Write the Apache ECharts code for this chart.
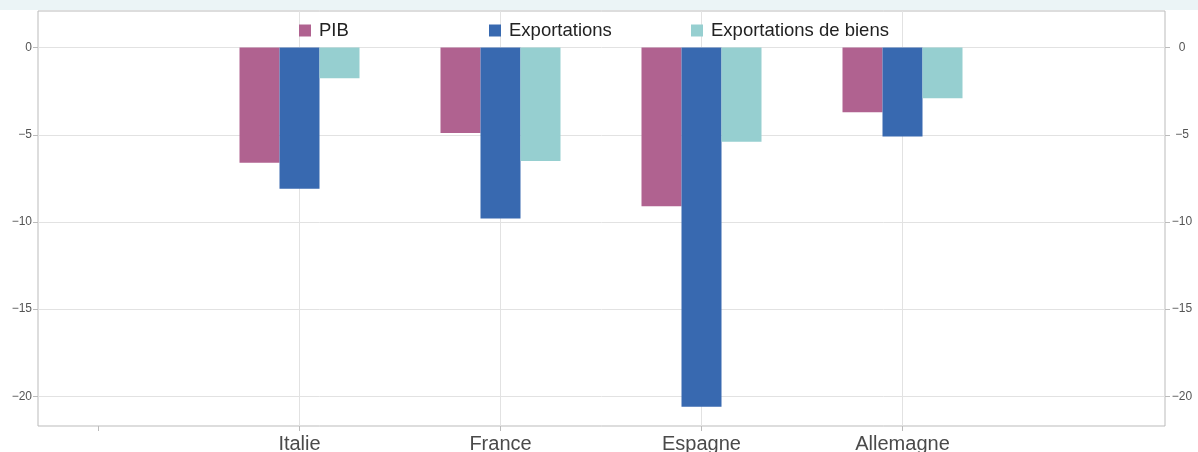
<!DOCTYPE html>
<html>
<head>
<meta charset="utf-8">
<script src="https://cdn.jsdelivr.net/npm/echarts@6/dist/echarts.min.js"></script>
<style>
html,body{margin:0;padding:0;background:#fff;}
#chart{width:1198px;height:452px;}
</style>
</head>
<body>
<div id="chart"></div>
<script>
// Data
var categories = ["Italie", "France", "Espagne", "Allemagne"];
var seriesNames = ["PIB", "Exportations", "Exportations de biens"];
var pib = [-6.6, -4.9, -9.1, -3.7];
var exportations = [-8.1, -9.8, -20.6, -5.1];
var exportationsBiens = [-1.75, -6.5, -5.4, -2.9];
var yTicks = [0, -5, -10, -15, -20];
var yMin = -21.7, yMax = 2.1;

var colors = ["#b06290", "#3869b0", "#96cfd0"];
var font = "'Liberation Sans', Arial, Helvetica, sans-serif";

// pad categories with empty slots at both ends
var axisCats = [""].concat(categories, [""]);
function pad(arr) { return [null].concat(arr, [null]); }
function fmt(v) { return String(v).replace('-', '\u2212'); }

var chart = echarts.init(document.getElementById('chart'), null, {renderer: 'canvas'});

var legendLefts = [299, 489, 691];
var legends = seriesNames.map(function (n, i) {
  return {
    data: [n], left: legendLefts[i], top: 21, padding: 0,
    itemWidth: 12, itemHeight: 12, icon: 'rect',
    selectedMode: false,
    textStyle: {fontSize: 18.5, color: '#222', fontFamily: font, padding: [0, 0, 0, 3]}
  };
});

var option = {
  animation: false,
  color: colors,
  graphic: [{
    type: 'rect', left: 0, top: 0, z: -10,
    shape: {width: 1198, height: 10},
    style: {fill: '#ebf4f6'}
  }],
  legend: legends,
  grid: [
    {left: 38, right: 33, top: 11, bottom: 26, show: true, borderColor: '#bbb', borderWidth: 1, backgroundColor: 'transparent', outerBoundsMode: 'none', containLabel: false},
    {left: 98.5, right: 94.5, top: 11, bottom: 26, outerBoundsMode: 'none', containLabel: false}
  ],
  xAxis: [
    {gridIndex: 0, type: 'value', min: 0, max: 1, show: false},
    {
      gridIndex: 1, type: 'category', data: axisCats, boundaryGap: false, position: 'bottom',
      axisLine: {show: false, onZero: false},
      axisTick: {show: true, inside: false, length: 5, interval: function (idx) { return idx < axisCats.length - 1; }, lineStyle: {color: '#bbb'}},
      axisLabel: {interval: 0, fontSize: 20, color: '#4a4a4a', fontFamily: font, margin: 8},
      splitLine: {show: true, interval: function (idx, val) { return val !== ''; }, lineStyle: {color: '#e2e2e2', width: 1}}
    }
  ],
  yAxis: [
    {
      gridIndex: 0, type: 'value', position: 'left', min: yMin, max: yMax,
      axisLine: {show: false},
      axisTick: {show: true, length: 5, customValues: yTicks, lineStyle: {color: '#bbb'}},
      axisLabel: {customValues: yTicks, formatter: fmt, fontSize: 12, color: '#555', fontFamily: font, margin: 6},
      splitLine: {show: true, lineStyle: {color: '#e2e2e2', width: 1}}
    },
    {
      gridIndex: 0, type: 'value', position: 'right', min: yMin, max: yMax,
      axisLine: {show: false},
      axisTick: {show: true, length: 5, customValues: yTicks, lineStyle: {color: '#bbb'}},
      axisLabel: {customValues: yTicks, formatter: fmt, fontSize: 12, color: '#555', fontFamily: font, margin: 17, align: 'center'},
      splitLine: {show: false}
    },
    {gridIndex: 1, type: 'value', min: yMin, max: yMax, show: false, splitLine: {show: false}}
  ],
  series: [
    {name: seriesNames[0], type: 'bar', xAxisIndex: 1, yAxisIndex: 2, data: pad(pib), barWidth: 40, barGap: '0%', itemStyle: {color: colors[0]}},
    {name: seriesNames[1], type: 'bar', xAxisIndex: 1, yAxisIndex: 2, data: pad(exportations), barWidth: 40, barGap: '0%', itemStyle: {color: colors[1]}},
    {name: seriesNames[2], type: 'bar', xAxisIndex: 1, yAxisIndex: 2, data: pad(exportationsBiens), barWidth: 40, barGap: '0%', itemStyle: {color: colors[2]}}
  ]
};
chart.setOption(option);
</script>
</body>
</html>
